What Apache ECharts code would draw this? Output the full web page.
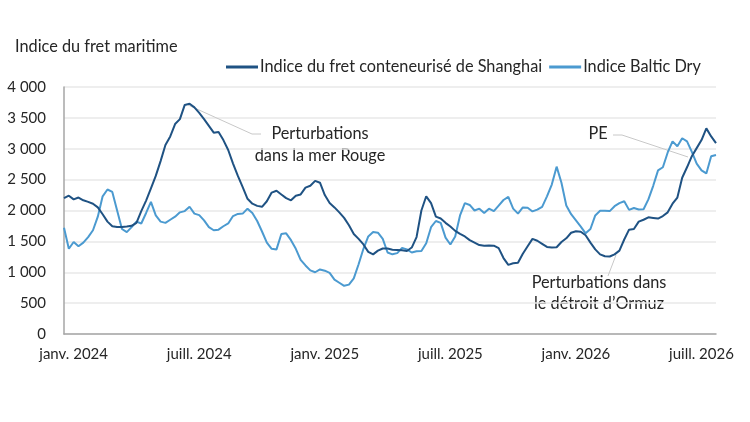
<!DOCTYPE html>
<html>
<head>
<meta charset="utf-8">
<script src="https://cdn.jsdelivr.net/npm/echarts@6/dist/echarts.min.js"></script>
<style>
  html, body { margin: 0; padding: 0; background: #fff; }
  #chart { width: 750px; height: 422px; }
</style>
</head>
<body>
<div id="chart"></div>
<script>
// hebdomadaire, à partir du 22 déc. 2023
var startDate = new Date(Date.UTC(2023, 11, 22));
var nWeeks = 136;

var tickMonths = { 0: 'janv.', 6: 'juill.' };

var shanghai = [
  2200, 2240, 2180, 2210, 2165, 2140, 2110, 2050, 1940, 1820,
  1745, 1732, 1731, 1740, 1752, 1800, 1990, 2160, 2360, 2560,
  2800, 3060, 3200, 3400, 3480, 3710, 3730, 3670, 3580, 3480,
  3370, 3260, 3270, 3140, 2980, 2760, 2560, 2380, 2190, 2110,
  2075, 2060, 2150, 2290, 2320, 2260, 2200, 2165, 2240, 2260,
  2370, 2400, 2480, 2450, 2250, 2120, 2050, 1970, 1880, 1760,
  1620, 1540, 1450, 1330, 1290, 1350, 1385, 1385, 1365, 1360,
  1355, 1345, 1400, 1570, 2000, 2230, 2120, 1900, 1870, 1800,
  1740, 1670, 1620, 1580, 1520, 1480, 1440, 1430, 1435, 1430,
  1390, 1230, 1120, 1145, 1155, 1300, 1420, 1540, 1510, 1460,
  1410, 1400, 1405, 1490, 1550, 1640, 1665, 1655, 1600, 1480,
  1370, 1290, 1260, 1255, 1290, 1350, 1530, 1690, 1700, 1820,
  1850, 1890, 1880, 1870, 1910, 1970, 2110, 2210, 2530, 2700,
  2880, 3010, 3140, 3330, 3200, 3090
];

var balticDry = [
  1720, 1380, 1490, 1420, 1480, 1570, 1680, 1900, 2230, 2340,
  2300, 2000, 1700, 1650, 1730, 1820, 1790, 1960, 2140, 1920,
  1820, 1800, 1850, 1900, 1970, 1990, 2060, 1950, 1925, 1840,
  1730, 1680, 1690, 1745, 1790, 1910, 1945, 1950, 2030, 1960,
  1830, 1660, 1480, 1380, 1370, 1620, 1630, 1520, 1380, 1200,
  1110, 1030, 1000, 1045, 1025, 990, 880, 830, 780, 800,
  900, 1130, 1380, 1580, 1650, 1640, 1540, 1320, 1290, 1310,
  1395, 1370, 1320, 1340, 1345, 1470, 1730, 1830, 1800, 1560,
  1450, 1580, 1920, 2120, 2090, 2000, 2030, 1960, 2030, 1990,
  2080, 2170, 2220, 2030, 1950, 2050, 2045, 1985, 2015, 2060,
  2230, 2420, 2710, 2450, 2080, 1940, 1840, 1740, 1630, 1700,
  1920, 1995, 1995, 1990, 2070, 2120, 2150, 2010, 2040, 2015,
  2020, 2180, 2400, 2650, 2700, 2940, 3120, 3040, 3170, 3120,
  2950, 2760, 2650, 2600, 2880, 2900
];

var categories = [];
for (var i = 0; i < nWeeks; i++) {
  categories.push(new Date(startDate.getTime() + i * 7 * 86400000));
}
// premier point de chaque janvier / juillet
var tickIndex = {};
categories.forEach(function (d, idx) {
  var m = d.getUTCMonth();
  if (tickMonths[m] && d.getUTCDate() <= 7) tickIndex[idx] = tickMonths[m] + ' ' + d.getUTCFullYear();
});

var FONT = 'Lato';
var TXT = '#262626';
var darkBlue = '#1f5283';
var lightBlue = '#4b9ad0';

var chart = echarts.init(document.getElementById('chart'));

var option = {
  animation: false,
  textStyle: { fontFamily: FONT, color: TXT },
  title: {
    text: 'Indice du fret maritime',
    left: 15, top: 39, padding: 0,
    textStyle: { fontFamily: FONT, fontSize: 16.3, fontWeight: 'normal', color: TXT }
  },
  legend: {
    left: 226, top: 59, padding: 0,
    itemWidth: 32, itemHeight: 3, itemGap: 7,
    icon: 'rect',
    textStyle: { fontFamily: FONT, fontSize: 16.3, color: TXT, padding: [0, 0, 0, -3] },
    data: ['Indice du fret conteneurisé de Shanghai', 'Indice Baltic Dry']
  },
  grid: { left: 64, right: 34, top: 87, bottom: 88 },
  xAxis: {
    type: 'category',
    boundaryGap: false,
    data: categories.map(function (d) { return d.toISOString().slice(0, 10); }),
    axisLine: { lineStyle: { color: '#a6a6a6', width: 1.5 } },
    axisTick: { show: false },
    axisLabel: {
      interval: function (idx) { return tickIndex[idx] !== undefined; },
      formatter: function (v, idx) { return tickIndex[idx] || ''; },
      margin: 13,
      fontFamily: FONT, fontSize: 15, color: TXT
    },
    splitLine: { show: false }
  },
  yAxis: {
    type: 'value',
    min: 0, max: 4000, interval: 500,
    axisLine: { show: true, lineStyle: { color: '#a6a6a6', width: 1.5 } },
    axisTick: { show: false },
    axisLabel: {
      margin: 18,
      fontFamily: FONT, fontSize: 15, color: TXT,
      formatter: function (v) { return v >= 1000 ? Math.floor(v / 1000) + ' ' + String(v % 1000).padStart(3, '0') : String(v); }
    },
    splitLine: { lineStyle: { color: '#e8e8e8', width: 1.5 } }
  },
  series: [
    {
      name: 'Indice du fret conteneurisé de Shanghai',
      type: 'line',
      data: shanghai,
      showSymbol: false,
      lineStyle: { color: darkBlue, width: 2 },
      itemStyle: { color: darkBlue },
      z: 3
    },
    {
      name: 'Indice Baltic Dry',
      type: 'line',
      data: balticDry,
      showSymbol: false,
      lineStyle: { color: lightBlue, width: 2 },
      itemStyle: { color: lightBlue },
      z: 2
    }
  ],
  graphic: [
    { type: 'polyline', shape: { points: [[188, 105], [252, 134], [261, 134]] }, style: { stroke: '#c8c8c8', lineWidth: 1, fill: null }, z: 1 },
    { type: 'text', x: 320, y: 145, style: { text: 'Perturbations\ndans la mer Rouge', align: 'center', verticalAlign: 'middle', fontFamily: FONT, fontSize: 16.3, lineHeight: 22, fill: TXT } },
    { type: 'polyline', shape: { points: [[613, 135], [622, 135], [688, 157]] }, style: { stroke: '#c8c8c8', lineWidth: 1, fill: null }, z: 1 },
    { type: 'text', x: 598, y: 134, style: { text: 'PE', align: 'center', verticalAlign: 'middle', fontFamily: FONT, fontSize: 16.3, fill: TXT } },
    { type: 'polyline', shape: { points: [[608, 276], [616, 255]] }, style: { stroke: '#c8c8c8', lineWidth: 1, fill: null }, z: 1 },
    { type: 'text', x: 599, y: 293.5, style: { text: 'Perturbations dans\nle détroit d\u2019Ormuz', align: 'center', verticalAlign: 'middle', fontFamily: FONT, fontSize: 16.3, lineHeight: 21, fill: TXT } }
  ]
};

chart.setOption(option);
</script>
</body>
</html>
